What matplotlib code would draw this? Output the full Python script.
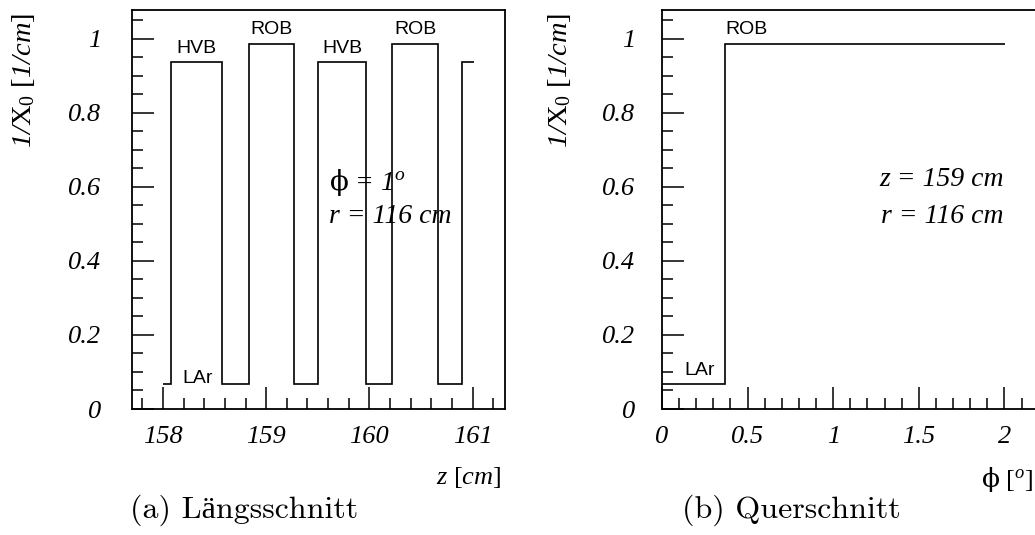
import matplotlib
matplotlib.use('Agg')
import matplotlib.pyplot as plt
from matplotlib.ticker import MultipleLocator

# material profile along z (phi = 1 deg, r = 116 cm)
z_edges = [158.00, 158.08, 158.57, 158.83, 159.27, 159.50, 159.97, 160.22, 160.67, 160.90, 161.01]
z_vals = [0.068, 0.937, 0.068, 0.987, 0.068, 0.937, 0.068, 0.987, 0.068, 0.937]
z_names = ['LAr', 'HVB', 'LAr', 'ROB', 'LAr', 'HVB', 'LAr', 'ROB', 'LAr', 'HVB']

# material profile along phi (z = 159 cm, r = 116 cm)
phi_edges = [0.0, 0.368, 2.006]
phi_vals = [0.068, 0.987]

plt.rcParams['font.family'] = 'Liberation Serif'
plt.rcParams['font.style'] = 'italic'
plt.rcParams['mathtext.fontset'] = 'custom'
plt.rcParams['mathtext.rm'] = 'Liberation Serif:style=normal'
plt.rcParams['mathtext.it'] = 'Liberation Serif:style=italic'
plt.rcParams['mathtext.bf'] = 'Liberation Serif:weight=bold'
plt.rcParams['mathtext.sf'] = 'DejaVu Serif:style=normal'   # only for the upright phi

fig = plt.figure(figsize=(10.35, 5.35), dpi=100)
ax1 = fig.add_axes([132/1035, 1-409/535, 372.5/1035, 399/535])
ax2 = fig.add_axes([662/1035, 1-409/535, 375/1035, 399/535])

for ax in (ax1, ax2):
    for s in ax.spines.values():
        s.set_linewidth(1.3)
    ax.tick_params(which='both', direction='in', top=False, right=False, width=1.1, labelsize=19)
    ax.tick_params(which='major', length=16)
    ax.tick_params(which='minor', length=8)
    ax.set_ylim(0, 1.078)
    ax.yaxis.set_major_locator(MultipleLocator(0.2))
    ax.yaxis.set_minor_locator(MultipleLocator(0.05))
    ax.yaxis.set_major_formatter(lambda v, p: '%g' % round(v, 2))
    ax.xaxis.set_major_formatter(lambda v, p: '%g' % round(v, 2))

ax1.tick_params(axis='y', pad=22)
ax2.tick_params(axis='y', pad=19.5)
ax1.tick_params(axis='x', pad=12)
ax2.tick_params(axis='x', pad=12)

ylab = r'1/$\mathrm{X}_{\mathit{0}}$ $\mathrm{[}$1/cm$\mathrm{]}$'

# (a) along z
ax1.stairs(z_vals, z_edges, baseline=None, color='black', linewidth=1.2)
ax1.set_xlim(157.70, 161.31)
ax1.xaxis.set_major_locator(MultipleLocator(1))
ax1.xaxis.set_minor_locator(MultipleLocator(0.2))
for i, name in enumerate(z_names):
    if name in ('HVB', 'ROB') and z_edges[i + 1] < 160.95:
        ax1.text((z_edges[i] + z_edges[i + 1]) / 2, z_vals[i] + 0.025, name,
                 family='Liberation Sans', style='normal', fontsize=14,
                 ha='center', va='baseline')
ax1.text(158.19, 0.07, 'LAr', family='Liberation Sans', style='normal',
         fontsize=14, ha='left', va='baseline')
ax1.text(159.61, 0.613, r'$\mathsf{ϕ}$ = 1$^{\mathit{o}}$', fontsize=20,
         ha='left', va='center')
ax1.text(159.61, 0.519, 'r = 116 cm', fontsize=20, ha='left', va='center')
ax1.set_ylabel(ylab, fontsize=20.5, loc='top')
ax1.yaxis.set_label_coords(-0.255, 0.992)
ax1.set_xlabel(r'z $\mathrm{[}$cm$\mathrm{]}$', fontsize=19, loc='right')
ax1.xaxis.set_label_coords(0.9925, -0.14)

# (b) along phi
ax2.stairs(phi_vals, phi_edges, baseline=None, color='black', linewidth=1.2)
ax2.set_xlim(0, 2.19)
ax2.xaxis.set_major_locator(MultipleLocator(0.5))
ax2.xaxis.set_minor_locator(MultipleLocator(0.1))
ax2.text(phi_edges[1] + 0.005, phi_vals[1] + 0.025, 'ROB', family='Liberation Sans',
         style='normal', fontsize=14, ha='left', va='baseline')
ax2.text(0.129, 0.092, 'LAr', family='Liberation Sans', style='normal',
         fontsize=14, ha='left', va='baseline')
ax2.text(1.994, 0.62, 'z = 159 cm', fontsize=20, ha='right', va='center')
ax2.text(1.994, 0.52, 'r = 116 cm', fontsize=20, ha='right', va='center')
ax2.set_ylabel(ylab, fontsize=20.5, loc='top')
ax2.yaxis.set_label_coords(-0.237, 0.992)
ax2.set_xlabel(r'$\mathsf{ϕ}\ \mathrm{[}^{\mathit{o}}\mathrm{]}$', fontsize=19, loc='right')
ax2.xaxis.set_label_coords(0.989, -0.14)

fig.text(0.236, 0.046, '(a) Längsschnitt', family=['cmr10', 'Liberation Serif'],
         style='normal', fontsize=23, ha='center', va='center')
fig.text(0.765, 0.046, '(b) Querschnitt', family=['cmr10', 'Liberation Serif'],
         style='normal', fontsize=23, ha='center', va='center')

fig.savefig('out.png', dpi=100)
